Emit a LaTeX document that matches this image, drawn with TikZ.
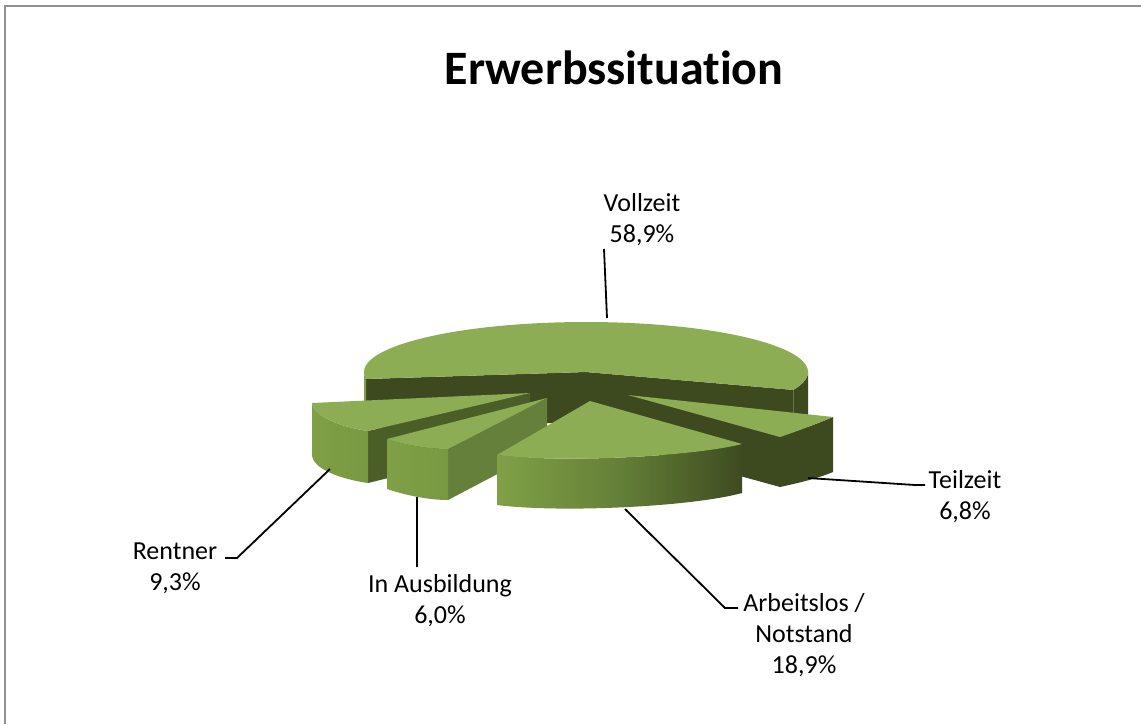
\documentclass[tikz,border=0pt]{standalone}
\usepackage{fontspec}
\setmainfont{Carlito}[Ligatures={NoCommon,NoContextual}]
\definecolor{topg}{RGB}{141,173,84}
\definecolor{darkg}{RGB}{61,74,32}
\definecolor{rcut}{RGB}{76,94,40}
\definecolor{acut}{RGB}{101,128,58}
\definecolor{lightside}{RGB}{128,160,70}
\definecolor{midside}{RGB}{120,152,66}
\definecolor{darkside}{RGB}{62,75,33}
\definecolor{framegray}{RGB}{145,145,145}
\begin{document}
\begin{tikzpicture}[x=1pt,y=-1pt,
  lbl/.style={font=\fontsize{26}{31}\selectfont, align=center, inner sep=0pt, text=black},
  leader/.style={draw=black, line width=1.8pt},
  ttl/.style={font=\fontsize{48}{56}\selectfont\bfseries, inner sep=0pt}]
\useasboundingbox (0,0) rectangle (1141,724);
\fill[white] (0,0) rectangle (1141,724);
\draw[framegray, line width=2.5pt] (5,724) -- (5,6) -- (1141,6);

% ---------- Vollzeit ----------
\fill[darkg] (586,372) -- (366.2,379) -- (366.2,429) -- (586,422) -- (793.3,439.9) -- (793.3,389.9) -- cycle;
\fill[darkg] plot[domain=0:21,samples=20] ({586+222*cos(\x)},{372+50*sin(\x)})
  -- plot[domain=21:0,samples=20] ({586+222*cos(\x)},{422+50*sin(\x)}) -- cycle;
\fill[lightside] plot[domain=172:180,samples=10] ({586+222*cos(\x)},{372+50*sin(\x)})
  -- plot[domain=180:172,samples=10] ({586+222*cos(\x)},{422+50*sin(\x)}) -- cycle;
\fill[topg] (586,372) -- plot[domain=172:381,samples=120] ({586+222*cos(\x)},{372+50*sin(\x)}) -- cycle;

% ---------- Teilzeit ----------
\fill[darkg] (628,395) -- (780,437) -- (780,487) -- (628,445) -- cycle;
\fill[darkg] (780,437) .. controls (798,431) and (816,424) .. (833,417) -- (833,472) .. controls (816,479) and (798,483) .. (780,487) -- cycle;
\fill[topg] (628,395) -- (833,417) .. controls (816,424) and (798,431) .. (780,437) -- cycle;

% ---------- Rentner ----------
\fill[rcut] (530,393) -- (368,431) -- (368,483) -- (530,443) -- cycle;
\shade[left color=lightside, right color=midside] (312,403) .. controls (314,416) and (340,427) .. (368,431) -- (368,483) .. controls (340,479) and (314,469) .. (312,456) -- cycle;
\fill[topg] (312,403) -- (530,393) -- (368,431) .. controls (340,427) and (314,416) .. (312,403) -- cycle;

% ---------- In Ausbildung ----------
\fill[acut] (547,398) -- (448,449) -- (448,500) -- (547,448) -- cycle;
\shade[left color=lightside, right color=midside] (387,439) .. controls (405,445) and (428,449) .. (448,449) -- (448,500) .. controls (428,500) and (405,495) .. (387,489) -- cycle;
\fill[topg] (547,398) -- (387,439) .. controls (405,445) and (428,449) .. (448,449) -- cycle;

% ---------- Arbeitslos / Notstand ----------
\shade[left color=lightside, right color=darkside, middle color={rgb,255:red,100;green,128;blue,55}] (497,455) .. controls (560,463) and (690,457) .. (742,444) -- (742,493) .. controls (690,507) and (560,513) .. (497,505) -- cycle;
\fill[topg] (590,401) -- (742,444) .. controls (690,457) and (560,463) .. (497,455) -- cycle;

% ---------- Title ----------
\node[ttl] (title) at (614,68) {Erwerbssit\kern0pt uation};

% ---------- Labels ----------
\node[lbl] (vzlab) at (642,220) {Vollzeit\\58,9\%};
\node[lbl] (tzlab) at (965,497) {Teilzeit\\6,8\%};
\node[lbl] (alab) at (804,635) {Arbeitslos /\\Notstand\\18,9\%};
\node[lbl] (rlab) at (175,568) {Rentner\\9,3\%};
\node[lbl] (aulab) at (440,601) {In Ausbildung\\6,0\%};

% ---------- Leader lines ----------
\coordinate (vzA) at (604,249);
\coordinate (vzB) at (607,318);
\coordinate (tzA) at (925,485);
\coordinate (tzK) at (915,485);
\coordinate (tzB) at (808,478);
\coordinate (alA) at (738,608);
\coordinate (alK) at (725,608);
\coordinate (alB) at (625,509);
\coordinate (rA) at (225,558);
\coordinate (rK) at (237,558);
\coordinate (rB) at (330,469);
\coordinate (auA) at (417,567);
\coordinate (auB) at (417,497);
\draw[leader] (vzA) -- (vzB);
\draw[leader] (tzA) -- (tzK) -- (tzB);
\draw[leader] (alA) -- (alK) -- (alB);
\draw[leader] (rA) -- (rK) -- (rB);
\draw[leader] (auA) -- (auB);
\end{tikzpicture}
\end{document}
